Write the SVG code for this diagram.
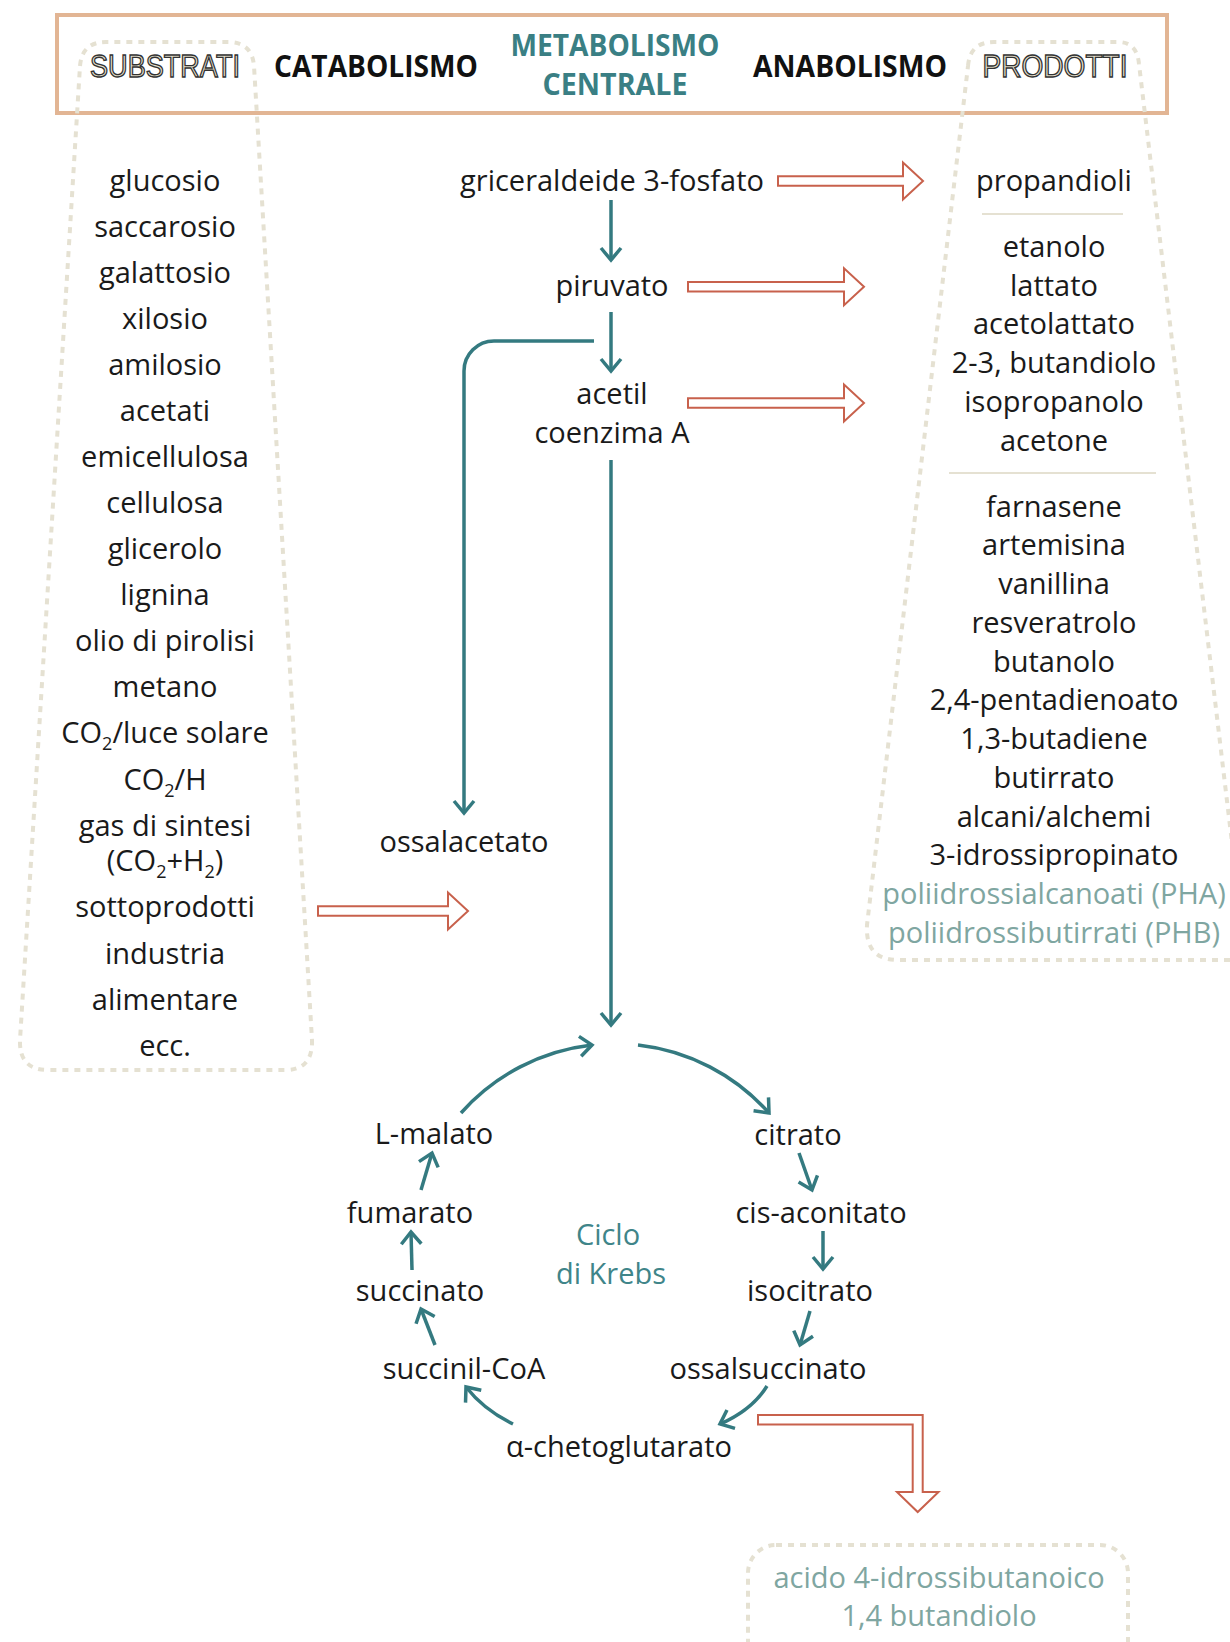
<svg xmlns="http://www.w3.org/2000/svg" width="1230" height="1642" viewBox="0 0 1230 1642">
<defs>
<style>
.t{font-family:"Open Sans","Noto Sans","DejaVu Sans",sans-serif;font-size:29px;fill:#1a1a1a;text-anchor:middle}
.g{fill:#7FA6A1}
.k{fill:#3F8589}
.h{font-family:"Open Sans","Noto Sans","DejaVu Sans",sans-serif;font-weight:700;font-size:30px;fill:#111;text-anchor:middle}
.m{fill:#3A7F84}
.o{font-family:"Liberation Sans","DejaVu Sans",sans-serif;font-size:31px;fill:#E9E3CF;stroke:#333;stroke-width:1.4;text-anchor:middle}
.dot{fill:none;stroke:#E5E1D2;stroke-width:4;stroke-dasharray:6 6}
.sep{stroke:#E5E1D2;stroke-width:2}
.tl{fill:none;stroke:#347A80;stroke-width:3.5;marker-end:url(#ah)}
.ra{fill:#fff;stroke:#C8614C;stroke-width:2}
.sub{font-size:18px}
</style>
<marker id="ah" markerUnits="userSpaceOnUse" markerWidth="30" markerHeight="30" refX="0" refY="0" viewBox="-15 -15 30 30" orient="auto" overflow="visible">
<path d="M-12,-10 L0,0 L-12,10" fill="none" stroke="#347A80" stroke-width="3.5"/>
</marker>
</defs>
<rect width="1230" height="1642" fill="#fff"/>

<g id="header">
<rect x="57" y="15" width="1110" height="98" fill="none" stroke="#E2B594" stroke-width="4"/>
<text class="o" x="165" y="77" textLength="150" lengthAdjust="spacingAndGlyphs">SUBSTRATI</text>
<text class="h" x="376" y="77" textLength="204" lengthAdjust="spacingAndGlyphs">CATABOLISMO</text>
<text class="h m" x="615" y="56" textLength="209" lengthAdjust="spacingAndGlyphs">METABOLISMO</text>
<text class="h m" x="615" y="95" textLength="145" lengthAdjust="spacingAndGlyphs">CENTRALE</text>
<text class="h" x="850" y="77" textLength="194" lengthAdjust="spacingAndGlyphs">ANABOLISMO</text>
<text class="o" x="1055" y="77" textLength="145" lengthAdjust="spacingAndGlyphs">PRODOTTI</text>
</g>

<g id="outlines">
<path class="dot" d="M80,66 Q82,42 106,42 H228 Q252,42 254,66 L312,1040 Q313,1070 285,1070 H48 Q19,1070 20,1040 Z"/>
<path class="dot" d="M968,66 Q970,42 994,42 H1118 Q1137,42 1139,64 L1246,960 H898 Q865,960 867,925 Z"/>
<rect class="dot" x="748" y="1545" width="380" height="140" rx="28"/>
<line class="sep" x1="982" y1="214" x2="1123" y2="214"/>
<line class="sep" x1="949" y1="473" x2="1156" y2="473"/>
</g>

<g id="substrati">
<text class="t" x="165" y="191">glucosio</text>
<text class="t" x="165" y="237">saccarosio</text>
<text class="t" x="165" y="283">galattosio</text>
<text class="t" x="165" y="329">xilosio</text>
<text class="t" x="165" y="375">amilosio</text>
<text class="t" x="165" y="421">acetati</text>
<text class="t" x="165" y="467">emicellulosa</text>
<text class="t" x="165" y="513">cellulosa</text>
<text class="t" x="165" y="559">glicerolo</text>
<text class="t" x="165" y="605">lignina</text>
<text class="t" x="165" y="651">olio di pirolisi</text>
<text class="t" x="165" y="697">metano</text>
<text class="t" x="165" y="743">CO<tspan class="sub" dy="7">2</tspan><tspan dy="-7">/luce solare</tspan></text>
<text class="t" x="165" y="790">CO<tspan class="sub" dy="7">2</tspan><tspan dy="-7">/H</tspan></text>
<text class="t" x="165" y="836">gas di sintesi</text>
<text class="t" x="165" y="871">(CO<tspan class="sub" dy="7">2</tspan><tspan dy="-7">+H</tspan><tspan class="sub" dy="7">2</tspan><tspan dy="-7">)</tspan></text>
<text class="t" x="165" y="917">sottoprodotti</text>
<text class="t" x="165" y="964">industria</text>
<text class="t" x="165" y="1010">alimentare</text>
<text class="t" x="165" y="1056">ecc.</text>
</g>

<g id="prodotti">
<text class="t" x="1054" y="191">propandioli</text>
<text class="t" x="1054" y="257">etanolo</text>
<text class="t" x="1054" y="296">lattato</text>
<text class="t" x="1054" y="334">acetolattato</text>
<text class="t" x="1054" y="373">2-3, butandiolo</text>
<text class="t" x="1054" y="412">isopropanolo</text>
<text class="t" x="1054" y="451">acetone</text>
<text class="t" x="1054" y="517">farnasene</text>
<text class="t" x="1054" y="555">artemisina</text>
<text class="t" x="1054" y="594">vanillina</text>
<text class="t" x="1054" y="633">resveratrolo</text>
<text class="t" x="1054" y="672">butanolo</text>
<text class="t" x="1054" y="710">2,4-pentadienoato</text>
<text class="t" x="1054" y="749">1,3-butadiene</text>
<text class="t" x="1054" y="788">butirrato</text>
<text class="t" x="1054" y="827">alcani/alchemi</text>
<text class="t" x="1054" y="865">3-idrossipropinato</text>
<text class="t g" x="1054" y="904">poliidrossialcanoati (PHA)</text>
<text class="t g" x="1054" y="943">poliidrossibutirrati (PHB)</text>
</g>

<g id="g3p"><text class="t" x="612" y="191">griceraldeide 3-fosfato</text></g>
<g id="piruvato"><text class="t" x="612" y="296">piruvato</text></g>
<g id="acetilcoa"><text class="t" x="612" y="404">acetil</text><text class="t" x="612" y="443">coenzima A</text></g>
<g id="ossalacetato"><text class="t" x="464" y="852">ossalacetato</text></g>
<g id="lmalato"><text class="t" x="434" y="1144">L-malato</text></g>
<g id="citrato"><text class="t" x="798" y="1145">citrato</text></g>
<g id="fumarato"><text class="t" x="410" y="1223">fumarato</text></g>
<g id="cisaconitato"><text class="t" x="821" y="1223">cis-aconitato</text></g>
<g id="krebs"><text class="t k" x="608" y="1245">Ciclo</text><text class="t k" x="611" y="1284">di Krebs</text></g>
<g id="succinato"><text class="t" x="420" y="1301">succinato</text></g>
<g id="isocitrato"><text class="t" x="810" y="1301">isocitrato</text></g>
<g id="succinilcoa"><text class="t" x="464" y="1379">succinil-CoA</text></g>
<g id="ossalsuccinato"><text class="t" x="768" y="1379">ossalsuccinato</text></g>
<g id="achetoglutarato"><text class="t" x="619" y="1457">α-chetoglutarato</text></g>
<g id="prodotti-finali"><text class="t g" x="939" y="1588">acido 4-idrossibutanoico</text><text class="t g" x="939" y="1626">1,4 butandiolo</text></g>

<g id="connectors">
<path class="tl" d="M611,200 V260"/>
<path class="tl" d="M611,312 V371"/>
<path class="tl" d="M594,341 H494 A30,30 0 0 0 464,371 V813"/>
<path class="tl" d="M611,460 V1025"/>
<path class="tl" d="M461,1113 A206,206 0 0 1 592,1045"/>
<path class="tl" d="M638,1045 A206,206 0 0 1 769,1113"/>
<path class="tl" d="M799,1153 L812,1190"/>
<path class="tl" d="M823,1231 V1269"/>
<path class="tl" d="M810,1311 L800,1345"/>
<path class="tl" d="M767,1386 Q752,1410 720,1424"/>
<path class="tl" d="M513,1424 Q484,1410 466,1387"/>
<path class="tl" d="M435,1345 L421,1309"/>
<path class="tl" d="M412,1270 L411,1232"/>
<path class="tl" d="M421,1190 L432,1153"/>
<path class="ra" d="M778,176.25 H903 V162.5 L923,181 L903,199.5 V185.75 H778 Z"/>
<path class="ra" d="M688,282 H844 V268.2 L864,286.7 L844,305.2 V291.4 H688 Z"/>
<path class="ra" d="M688,398.25 H844 V384.5 L864,403 L844,421.5 V407.75 H688 Z"/>
<path class="ra" d="M318,906.25 H448 V892.5 L468,911 L448,929.5 V915.75 H318 Z"/>
<path class="ra" d="M758,1415 H922.7 V1492 H938.5 L917.7,1512 L897,1492 H912.7 V1424.5 H758 Z"/>
</g>
</svg>
